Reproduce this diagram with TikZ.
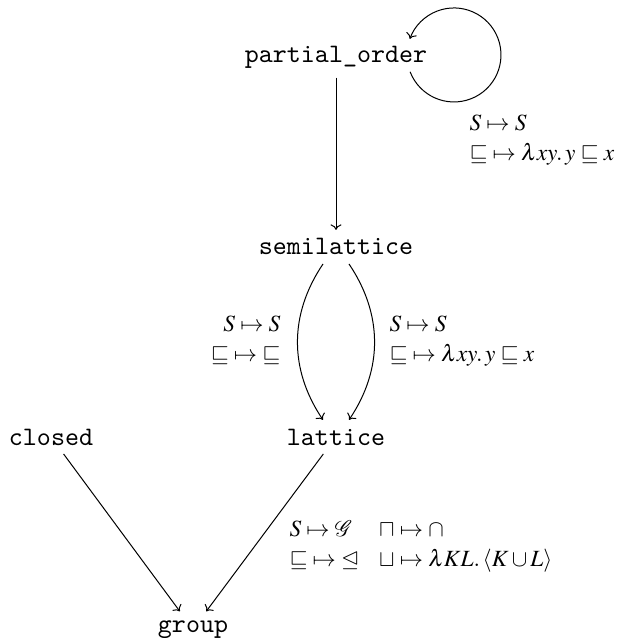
\documentclass[tikz,border=0pt]{standalone}
\usepackage{mathptmx}
\usepackage{amssymb}
\usepackage{mathrsfs}
\usepackage[no-math]{fontspec}
\setmonofont{Latin Modern Mono}
\usetikzlibrary{arrows.meta}
\begin{document}
\begin{tikzpicture}[x=0.4pt,y=-0.4pt,
  obj/.style={font=\ttfamily\fontsize{10.67}{12}\selectfont, anchor=base, inner sep=3.33pt},
  arr/.style={-{To[length=2.2pt,width=4.4pt]}, line width=0.4pt},
  lab/.style={inner sep=0pt, font=\fontsize{9.3}{12}\selectfont}]
\useasboundingbox (0,0) rectangle (624,638);
\node[obj] (po)  at (336,63)  {partial\_order};
\node[obj] (sl)  at (336,255) {semilattice};
\node[obj] (lat) at (336,445) {lattice};
\node[obj] (cl)  at (51,445)  {closed};
\node[obj] (gr)  at (193,632) {group};
% self loop
\coordinate (ls) at (410.1,71.8);
\draw[arr] (ls) arc[start angle=201, end angle=520, radius=18.8pt];
\node[lab, anchor=west] (l1) at (469,140)
  {$\begin{array}{@{}l@{}} S\mapsto S\\ {\sqsubseteq}\mapsto \lambda xy.\, y\sqsubseteq x\end{array}$};
\draw[arr] (po) -- (sl);
\draw[arr] ([xshift=-5.2pt]sl.south) to[out=-124,in=124] ([xshift=-5.2pt]lat.north);
\draw[arr] ([xshift=5.2pt]sl.south) to[out=-56,in=56] ([xshift=5.2pt]lat.north);
\node[lab, anchor=east] (l2) at (281,341)
  {$\begin{array}{@{}r@{}} S\mapsto S\\ {\sqsubseteq}\mapsto {\sqsubseteq}\end{array}$};
\node[lab, anchor=west] (l3) at (389,341)
  {$\begin{array}{@{}l@{}} S\mapsto S\\ {\sqsubseteq}\mapsto \lambda xy.\, y\sqsubseteq x\end{array}$};
\draw[arr] (cl) -- (gr);
\draw[arr] (lat) -- (gr);
\node[lab, anchor=west] (l4) at (289,545)
  {$\begin{array}{@{}l@{\hspace{8pt}}l@{}} S\mapsto \mathscr{G} & {\sqcap}\mapsto\cap\\ {\sqsubseteq}\mapsto {\unlhd} & {\sqcup}\mapsto \lambda KL.\,\langle K\cup L\rangle\end{array}$};
\end{tikzpicture}
\end{document}
